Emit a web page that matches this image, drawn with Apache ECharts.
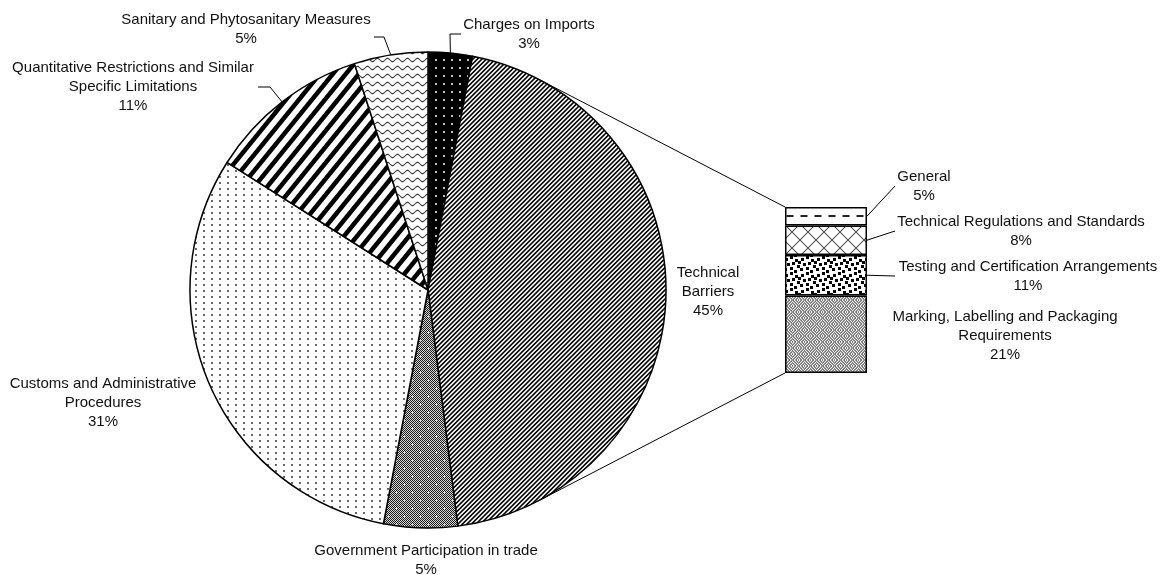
<!DOCTYPE html>
<html>
<head>
<meta charset="utf-8">
<script src="https://cdn.jsdelivr.net/npm/echarts@6/dist/echarts.min.js"></script>
<style>
  html, body { margin: 0; padding: 0; background: #fff; }
  #chart { width: 1161px; height: 575px; }
</style>
</head>
<body>
<div id="chart"></div>
<script>
// ---- data -------------------------------------------------------------
const pieNames = [
  'Charges on Imports',
  'Technical\nBarriers',
  'Government Participation in trade',
  'Customs and Administrative\nProcedures',
  'Quantitative Restrictions and Similar\nSpecific Limitations',
  'Sanitary and Phytosanitary Measures'
];
const pieValues = [3, 45, 5, 31, 11, 5];

// breakdown of the "Technical Barriers" slice, listed top to bottom
const barNames = [
  'General',
  'Technical Regulations and Standards',
  'Testing and Certification Arrangements',
  'Marking, Labelling and Packaging\nRequirements'
];
const barValues = [5, 8, 11, 21];
const splitIndex = 1;

// ---- layout -----------------------------------------------------------
const PIE = { cx: 428, cy: 290, r: 238 };
const BAR = { left: 785, top: 207, width: 82, height: 166 };
const FONT = '"Liberation Sans", Arial, sans-serif';
const FONT_SIZE = 15;
const LINE_H = 19;

// label anchors: [centre x, top y]
const pieLabelPos = [[529, 15.5], [708, 263.5], [426, 541.5], [103, 374], [133, 58.5], [246, 10.5]];
const barLabelPos = [[924, 167.5], [1021, 212.5], [1028, 257.5], [1005, 307.5]];
// leader line elbows (after the start point on the mark)
const pieLeaders = { 0: [[450, 34], [461, 34]], 5: [[384, 37], [374, 37]], 4: [[270, 87], [258, 87]] };
const barLeaders = { 0: [[895, 186]], 1: [[895, 231]], 2: [[895, 276]] };

// ---- fill patterns ----------------------------------------------------
const mod = (a, n) => ((a % n) + n) % n;
function hex(c) { return [parseInt(c.substr(1, 2), 16), parseInt(c.substr(3, 2), 16), parseInt(c.substr(5, 2), 16)]; }
function makeTile(w, h, ink, bg, fn) {
  const c = document.createElement('canvas');
  c.width = w; c.height = h;
  const g = c.getContext('2d');
  const img = g.createImageData(w, h);
  const I = hex(ink), B = hex(bg), S = 4;
  for (let y = 0; y < h; y++) {
    for (let x = 0; x < w; x++) {
      let cov = 0;
      for (let sy = 0; sy < S; sy++) for (let sx = 0; sx < S; sx++) {
        if (fn(x + (sx + 0.5) / S, y + (sy + 0.5) / S)) cov++;
      }
      cov /= S * S;
      const k = (y * w + x) * 4;
      for (let j = 0; j < 3; j++) img.data[k + j] = Math.round(B[j] + (I[j] - B[j]) * cov);
      img.data[k + 3] = 255;
    }
  }
  g.putImageData(img, 0, 0);
  return { image: c, repeat: 'repeat' };
}
const dot = (px, py, cx, cy, r) => (px - cx) * (px - cx) + (py - cy) * (py - cy) < r * r;

const patCharges = makeTile(8, 8, '#e8e8e8', '#000000', (x, y) => dot(x, y, 4, 4, 1.0));
const patTechnical = makeTile(9, 9, '#000000', '#ffffff', (x, y) => mod(x + y, 4.5) < 2.2);
const patGovernment = makeTile(16, 16, '#1a1a1a', '#d8d8d8', (x, y) => {
  const cross = (cx, cy) => (Math.abs(x - cx) < 0.5 && Math.abs(y - cy) < 1.5) || (Math.abs(y - cy) < 0.5 && Math.abs(x - cx) < 1.5);
  if (cross(4.5, 4.5) || cross(12.5, 12.5)) return false;
  return (Math.floor(x) + Math.floor(y)) % 2 === 0;
});
const patCustoms = makeTile(8, 6, '#222222', '#ffffff', (x, y) => dot(x, y, 4, 3, 0.9));
const patQuantitative = makeTile(13, 16, '#000000', '#ffffff', (x, y) => mod((16 * x + 13 * y) / 208, 1) < 0.45);
const patSanitary = makeTile(10, 8, '#333333', '#ffffff', (x, y) => Math.abs(y - (4 + 1.6 * Math.sin(2 * Math.PI * x / 10))) < 0.65);
const piePatterns = [patCharges, patTechnical, patGovernment, patCustoms, patQuantitative, patSanitary];

const patGeneral = makeTile(14, 16, '#222222', '#ffffff', (x, y) => y >= 7 && y < 9 && x >= 2.5 && x < 9.5);
const patRegulations = makeTile(16, 16, '#333333', '#ffffff', (x, y) => mod(x - y + 0.7, 16) < 1.4 || mod(x + y + 0.7, 16) < 1.4);
const confetti = [[1, 2], [6, 0], [11, 3], [3, 7], [8, 6], [13, 9], [0, 12], [6, 11], [10, 14], [14, 5]];
const patTesting = makeTile(16, 16, '#000000', '#ffffff', (x, y) => confetti.some(([a, b]) => mod(x - a, 16) < 3 && mod(y - b, 16) < 3));
const patMarking = makeTile(12, 12, '#555555', '#ffffff', (x, y) => {
  const q = (Math.floor(x / 6) + Math.floor(y / 6)) % 2;
  return q === 0 ? mod(x - y, 3) < 1.5 : mod(x + y, 3) < 1.5;
});
const barPatterns = [patGeneral, patRegulations, patTesting, patMarking];

// ---- geometry helpers ---------------------------------------------------
const pieTotal = pieValues.reduce((a, b) => a + b, 0);
function piePoint(frac) {
  const a = frac * 2 * Math.PI;
  return [PIE.cx + PIE.r * Math.sin(a), PIE.cy - PIE.r * Math.cos(a)];
}
function sliceMid(i) {
  let cum = 0;
  for (let k = 0; k < i; k++) cum += pieValues[k];
  return piePoint((cum + pieValues[i] / 2) / pieTotal);
}
const barTotal = barValues.reduce((a, b) => a + b, 0);
function barMidY(i) {
  let above = 0;
  for (let k = 0; k < i; k++) above += barValues[k];
  return BAR.top + BAR.height * (above + barValues[i] / 2) / barTotal;
}
// tangent point from an outside point to the pie circle
function tangent(px, py, upper) {
  const dx = px - PIE.cx, dy = py - PIE.cy;
  const d = Math.hypot(dx, dy);
  const th = Math.atan2(dy, dx), al = Math.acos(PIE.r / d);
  const a = upper ? th - al : th + al;
  return [PIE.cx + PIE.r * Math.cos(a), PIE.cy + PIE.r * Math.sin(a)];
}

const lineStyle = { stroke: '#000', lineWidth: 1, fill: null };
const graphics = [];
const barTop = [BAR.left, BAR.top], barBottom = [BAR.left, BAR.top + BAR.height];
graphics.push({ type: 'polyline', z: 0, shape: { points: [tangent(barTop[0], barTop[1], true), barTop] }, style: lineStyle, silent: true });
graphics.push({ type: 'polyline', z: 0, shape: { points: [tangent(barBottom[0], barBottom[1], false), barBottom] }, style: lineStyle, silent: true });
Object.keys(pieLeaders).forEach(k => {
  graphics.push({ type: 'polyline', z: 10, shape: { points: [sliceMid(+k)].concat(pieLeaders[k]) }, style: lineStyle, silent: true });
});
Object.keys(barLeaders).forEach(k => {
  graphics.push({ type: 'polyline', z: 10, shape: { points: [[BAR.left + BAR.width, barMidY(+k)]].concat(barLeaders[k]) }, style: lineStyle, silent: true });
});

const labelText = { color: '#111', fontFamily: FONT, fontSize: FONT_SIZE, lineHeight: LINE_H, align: 'center' };

// stacked bar: bottom segment first
const barSeries = [];
for (let i = barValues.length - 1; i >= 0; i--) {
  barSeries.push({
    type: 'bar',
    name: barNames[i],
    stack: 'split',
    barWidth: '100%',
    data: [barValues[i]],
    itemStyle: { color: barPatterns[i], borderColor: '#000', borderWidth: 1.5 },
    label: Object.assign({ show: true, formatter: barNames[i] + '\n' + barValues[i] + '%' }, labelText),
    labelLayout: { x: barLabelPos[i][0], y: barLabelPos[i][1], align: 'center', verticalAlign: 'top' },
    emphasis: { disabled: true },
    silent: true,
    z: 2
  });
}

const chart = echarts.init(document.getElementById('chart'), null, { renderer: 'canvas' });
chart.setOption({
  animation: false,
  backgroundColor: '#fff',
  grid: { left: BAR.left, top: BAR.top, width: BAR.width, height: BAR.height, containLabel: false },
  xAxis: { type: 'category', data: [pieNames[splitIndex]], show: false },
  yAxis: { type: 'value', min: 0, max: barTotal, show: false },
  graphic: graphics,
  series: [{
    type: 'pie',
    center: [PIE.cx, PIE.cy],
    radius: PIE.r,
    startAngle: 90,
    clockwise: true,
    avoidLabelOverlap: false,
    data: pieNames.map((n, i) => ({ name: n, value: pieValues[i], itemStyle: { color: piePatterns[i] } })),
    itemStyle: { borderColor: '#000', borderWidth: 1.5 },
    label: Object.assign({ show: true, position: 'outside', formatter: '{b}\n{c}%' }, labelText),
    labelLine: { show: false },
    labelLayout: p => ({ x: pieLabelPos[p.dataIndex][0], y: pieLabelPos[p.dataIndex][1], align: 'center', verticalAlign: 'top' }),
    emphasis: { disabled: true },
    silent: true,
    z: 2
  }].concat(barSeries)
});
</script>
</body>
</html>
